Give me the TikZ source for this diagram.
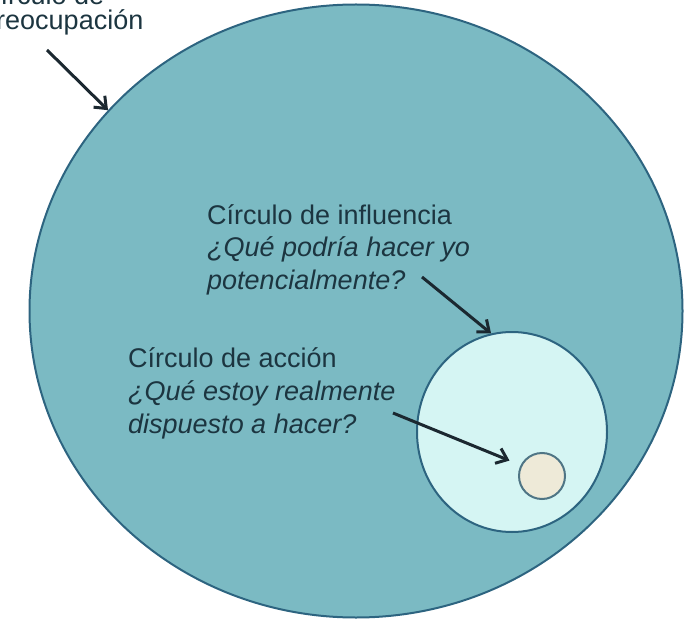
\documentclass[tikz,border=0pt]{standalone}
\usepackage{fontspec}
\setmainfont{Liberation Sans}
\usetikzlibrary{shapes.geometric,arrows.meta}

\definecolor{outerfill}{HTML}{7BBAC3}
\definecolor{midfill}{HTML}{D5F5F3}
\definecolor{innerfill}{HTML}{EEEAD8}
\definecolor{ringline}{HTML}{2D6480}
\definecolor{innerline}{HTML}{4F7585}
\definecolor{labelink}{HTML}{1C3540}
\definecolor{arrowink}{HTML}{1B2830}

\begin{document}
\begin{tikzpicture}[
  x=1pt, y=-1pt, % pixel units, y runs down
  zone/.style={ellipse, draw=ringline, line width=2pt, inner sep=0pt}, % the three circles
  lbl/.style={align=left, inner sep=0pt, anchor=base west, text=labelink, font=\fontsize{27}{33}\selectfont}, % base = last line
  pointer/.style={-{Straight Barb[length=10pt,width=16pt]}, line width=3pt, draw=arrowink}
]
\useasboundingbox (0,0) rectangle (693,620);

% Circles
\node[zone, fill=outerfill, minimum width=653, minimum height=613] (preoc) at (356,311) {};
\node[zone, fill=midfill, minimum width=190, minimum height=200] (influ) at (512,432) {};
\node[zone, fill=innerfill, draw=innerline, minimum width=46, minimum height=46] (accion) at (542,476) {};

% Labels
\node[lbl, font=\fontsize{27}{25}\selectfont] (preoctxt) at (-19,30) {Círculo de\\preocupación};
\node[lbl] (influtxt) at (207,290) {Círculo de influencia\\\textit{¿Qué podría hacer yo}\\\textit{potencialmente?}};
\node[lbl] (acciontxt) at (128,433) {Círculo de acción\\\textit{¿Qué estoy realmente}\\\textit{dispuesto a hacer?}};

% Arrows
\coordinate (preoctail) at (47,50);
\coordinate (influtail) at (422,277);
\coordinate (acciontail) at (393,413);
\draw[pointer] (preoctail) -- (preoc.141);
\draw[pointer] (influtail) -- (influ.102);
\draw[pointer, shorten >=12pt] (acciontail) -- (accion.153);

\end{tikzpicture}
\end{document}
